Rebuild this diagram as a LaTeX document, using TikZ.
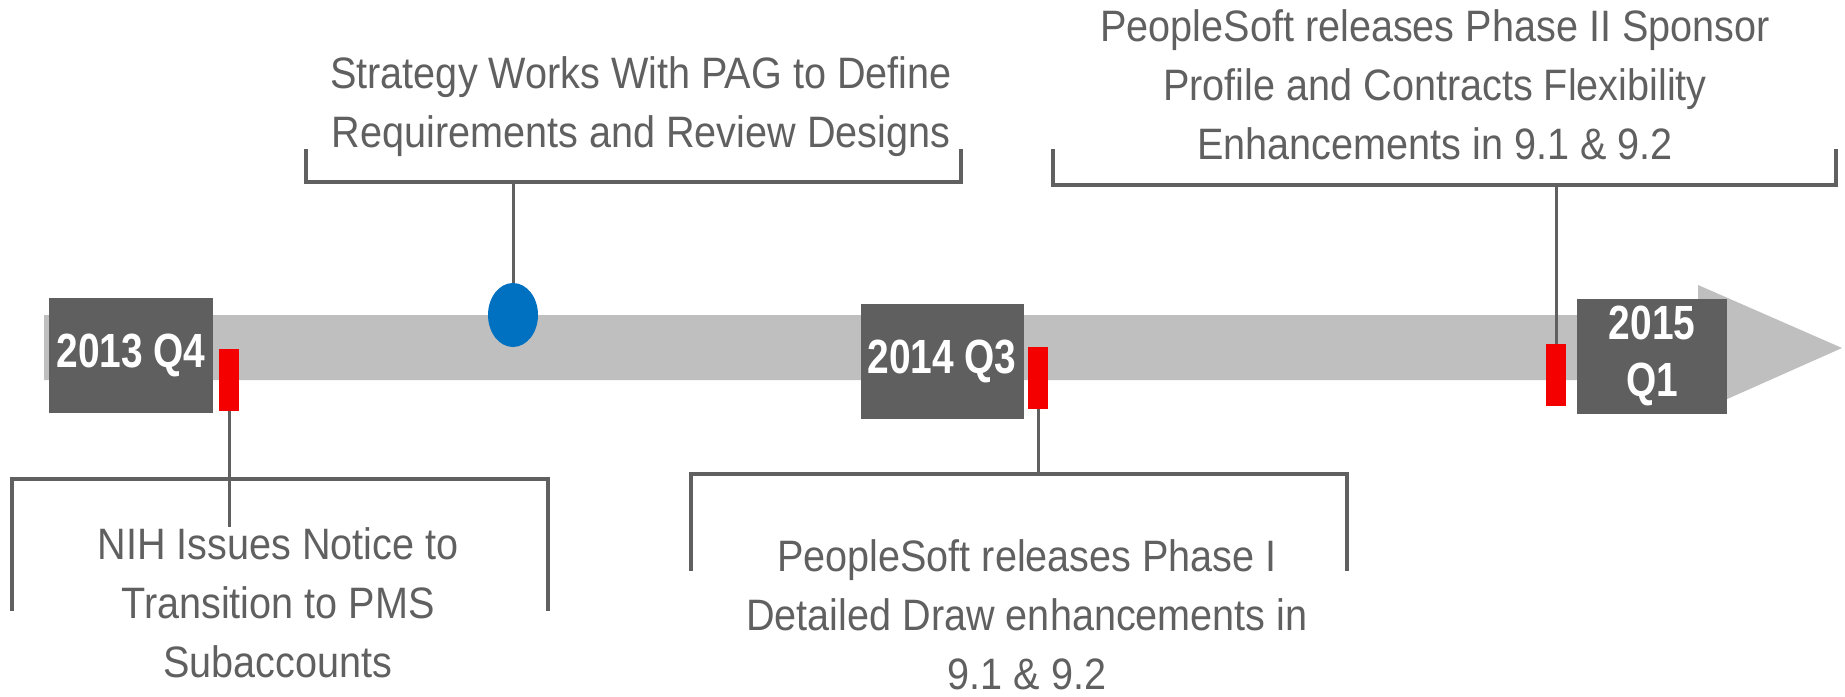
\documentclass[tikz,border=0pt]{standalone}
\usepackage{fontspec}
\setmainfont{Liberation Sans}[FakeStretch=0.9]
\newfontfamily\yearfont{Liberation Sans}[FakeStretch=0.81]
\usepackage{tikz}
\usetikzlibrary{shapes.geometric, positioning, calc}
\definecolor{barcolor}{RGB}{191, 191, 191}
\definecolor{boxcolor}{RGB}{95, 95, 95}
\definecolor{markcolor}{RGB}{245, 0, 0}
\definecolor{dotcolor}{RGB}{0, 112, 192}
\definecolor{linecolor}{RGB}{96, 96, 96}
\tikzset{
    yearbox/.style={fill=boxcolor, text=white, inner sep=0pt, minimum height=57.5pt, align=center,
        font=\yearfont\bfseries\fontsize{24pt}{28.5pt}\selectfont},
    marker/.style={fill=markcolor, inner sep=0pt, minimum width=10pt, minimum height=31pt},
    bracket/.style={draw=linecolor, line width=1.6pt},
    stem/.style={draw=linecolor, line width=1.5pt},
    evtext/.style={text=linecolor, align=center, inner sep=0pt, font=\fontsize{22pt}{29.5pt}\selectfont}
}

\begin{document}
\begin{tikzpicture}[x=0.5pt, y=-0.5pt]
    \useasboundingbox (0, 0) rectangle (1845, 696);

    % Timeline arrow
    \fill[barcolor] (44, 315) -- (1698, 315) -- (1698, 285) -- (1842, 348) -- (1698, 412) -- (1698, 380) -- (44, 380) -- cycle;

    % Year boxes
    \node[yearbox, minimum width=82pt] (yr1) at (131, 355) {2013 Q4};
    \node[yearbox, minimum width=81.5pt] (yr2) at (942, 361) {2014 Q3};
    \node[yearbox, minimum width=75pt] (yr3) at (1652, 356) {2015\\Q1};

    % Milestone markers
    \node[marker] (mk1) at (229, 380) {};
    \node[marker] (mk2) at (1038, 377.5) {};
    \node[marker] (mk3) at (1556, 375) {};
    \node[draw=none, fill=dotcolor, ellipse, inner sep=0pt, minimum width=25pt, minimum height=32pt] (dot) at (513, 315) {};

    % Event texts
    \node[evtext] (nih) at (278, 603) {NIH Issues Notice to\\Transition to PMS\\Subaccounts};
    \node[evtext] (pag) at (641, 107) {Strategy Works With PAG to Define\\Requirements and Review Designs};
    \node[evtext] (ph1) at (1027, 615) {PeopleSoft releases Phase I\\Detailed Draw enhancements in\\9.1 \& 9.2};
    \node[evtext] (ph2) at (1435, 85) {PeopleSoft releases Phase II Sponsor\\Profile and Contracts Flexibility\\Enhancements in 9.1 \& 9.2};

    % Brackets
    \draw[bracket] (12, 611) -- (12, 479) -- (548, 479) -- (548, 611);
    \draw[bracket] (306, 149) -- (306, 182) -- (961, 182) -- (961, 149);
    \draw[bracket] (691, 571) -- (691, 474) -- (1347, 474) -- (1347, 571);
    \draw[bracket] (1053, 149) -- (1053, 185) -- (1836, 185) -- (1836, 149);
    \coordinate (b2) at (513, 182);
    \coordinate (b3) at (1038, 474);
    \coordinate (b4) at (1556, 185);

    % Stems
    \draw[stem] (mk1.south) -- (mk1.south |- nih.north);
    \draw[stem] (dot.north) -- (b2);
    \draw[stem] (mk2.south) -- (b3);
    \draw[stem] (mk3.north) -- (b4);

\end{tikzpicture}
\end{document}
